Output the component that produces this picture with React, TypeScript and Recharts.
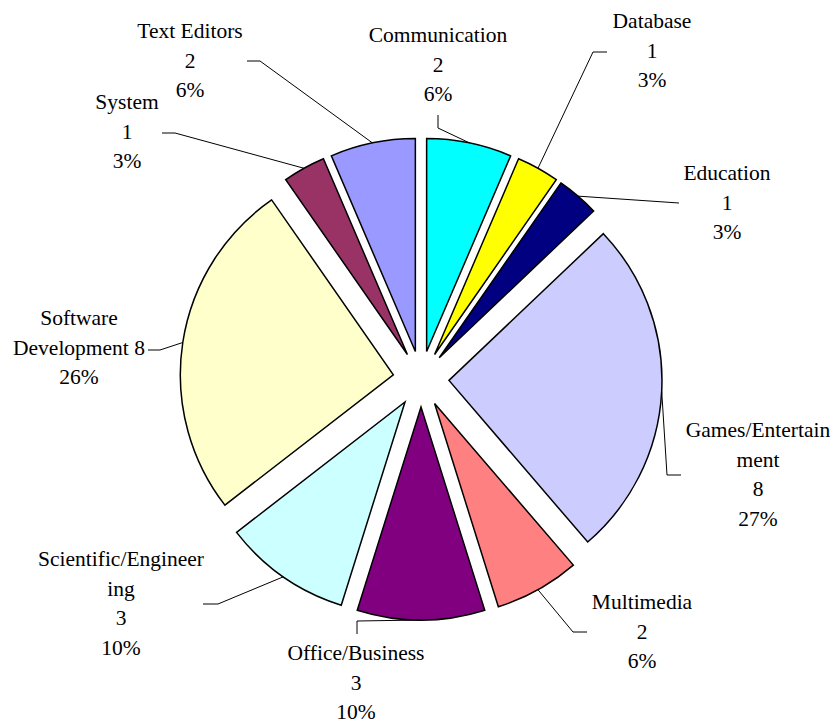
import { Cell, Pie, PieChart, Sector } from "recharts";

const categories = [
  "Communication",
  "Database",
  "Education",
  "Games/Entertainment",
  "Multimedia",
  "Office/Business",
  "Scientific/Engineering",
  "Software Development",
  "System",
  "Text Editors",
];
const counts = [2, 1, 1, 8, 2, 3, 3, 8, 1, 2];
const percents = ["6%", "3%", "3%", "27%", "6%", "10%", "10%", "26%", "3%", "6%"];
const colors = [
  "#00FFFF",
  "#FFFF00",
  "#000080",
  "#CCCCFF",
  "#FF8080",
  "#800080",
  "#CCFFFF",
  "#FFFFCC",
  "#993366",
  "#9999FF",
];

const data = categories.map((name, i) => ({ name, value: counts[i] }));

const RAD = Math.PI / 180;
const EXPLODE = 28;
const LINE_H = 29.5;
const FONT = "Liberation Serif";

// where Excel put each label block and the bend of its leader line
const labelLayout = [
  { x: 438, y: 35, wrapAt: 0, inline: false, leader: [[438, 128], [438, 115]] },
  { x: 652, y: 21, wrapAt: 0, inline: false, leader: [[593, 52], [607, 52]] },
  { x: 727, y: 173, wrapAt: 0, inline: false, leader: [[679, 203]] },
  { x: 758, y: 430, wrapAt: 15, inline: false, leader: [[667, 475], [681, 475]] },
  { x: 642, y: 602, wrapAt: 0, inline: false, leader: [[573, 632], [587, 632]] },
  { x: 356, y: 653, wrapAt: 0, inline: false, leader: [[357, 621], [357, 634]] },
  { x: 121, y: 559, wrapAt: 19, inline: false, leader: [[218, 604], [203, 604]] },
  { x: 79, y: 318, wrapAt: 8, inline: true, leader: [[160, 350], [148, 350]] },
  { x: 127, y: 102, wrapAt: 0, inline: false, leader: [[175, 133], [162, 133]] },
  { x: 190, y: 31, wrapAt: 0, inline: false, leader: [[260, 61], [247, 61]] },
];

function labelLines(i: number) {
  const l = labelLayout[i];
  const name = categories[i];
  let head = [name];
  if (l.wrapAt) head = [name.slice(0, l.wrapAt).trim(), name.slice(l.wrapAt).trim()];
  if (l.inline) {
    head[head.length - 1] += " " + counts[i];
    return [...head, percents[i]];
  }
  return [...head, String(counts[i]), percents[i]];
}

const ExplodedSector = (props: any) => {
  const { cx, cy, midAngle } = props;
  const dx = EXPLODE * Math.cos(-midAngle * RAD);
  const dy = EXPLODE * Math.sin(-midAngle * RAD);
  return <Sector {...props} cx={cx + dx} cy={cy + dy} />;
};

const renderLabel = (props: any) => {
  const { cx, cy, midAngle, outerRadius, index } = props;
  const cos = Math.cos(-midAngle * RAD);
  const sin = Math.sin(-midAngle * RAD);
  const sx = cx + (outerRadius + EXPLODE) * cos;
  const sy = cy + (outerRadius + EXPLODE) * sin;
  const l = labelLayout[index];
  const pts = [[sx, sy], ...l.leader].map((p) => p.join(",")).join(" ");
  const lines = labelLines(index);
  return (
    <g key={`lbl-${index}`}>
      <polyline points={pts} fill="none" stroke="#000" strokeWidth={1} />
      {lines.map((t, k) => (
        <text
          key={k}
          x={l.x}
          y={l.y + k * LINE_H}
          textAnchor="middle"
          dominantBaseline="central"
          style={{ fontFamily: FONT, fontSize: 21.5 }}
          fill="#000"
        >
          {t}
        </text>
      ))}
    </g>
  );
};

export default function App() {
  return (
    <div style={{ position: "absolute", left: 0, top: 0, background: "#fff" }}>
      <PieChart width={838} height={722} margin={{ top: 0, right: 0, bottom: 0, left: 0 }}>
        <Pie
          data={data}
          dataKey="value"
          nameKey="name"
          cx={421}
          cy={379}
          outerRadius={213}
          startAngle={90}
          endAngle={-270}
          stroke="#000"
          strokeWidth={1.5}
          shape={ExplodedSector}
          label={renderLabel}
          labelLine={false}
          isAnimationActive={false}
        >
          {data.map((d, i) => (
            <Cell key={d.name} fill={colors[i]} />
          ))}
        </Pie>
      </PieChart>
    </div>
  );
}
